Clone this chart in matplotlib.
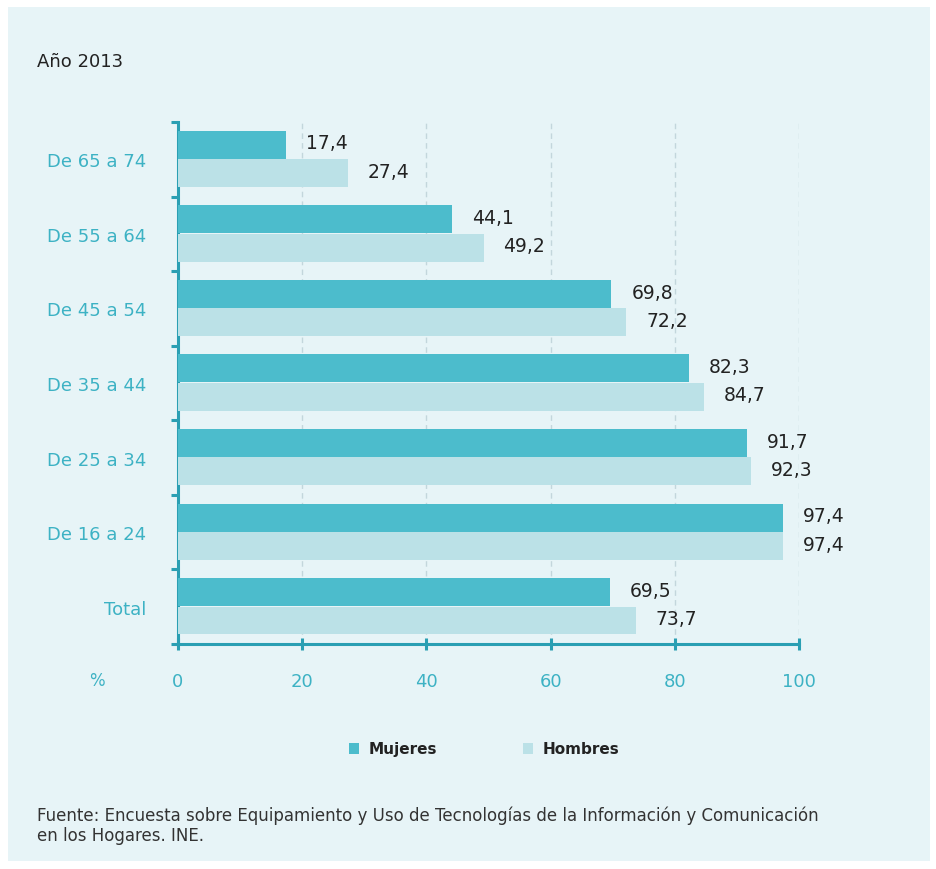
import numpy as np
import matplotlib
matplotlib.use("Agg")
import matplotlib.pyplot as plt
from matplotlib.patches import Rectangle

plt.rcParams["font.family"] = ["DejaVu Sans"]

# Porcentaje de usuarios de Internet por grupo de edad y sexo, 2013
grupos = ["De 65 a 74", "De 55 a 64", "De 45 a 54", "De 35 a 44",
          "De 25 a 34", "De 16 a 24", "Total"]
mujeres = [17.4, 44.1, 69.8, 82.3, 91.7, 97.4, 69.5]
hombres = [27.4, 49.2, 72.2, 84.7, 92.3, 97.4, 73.7]
xticks = [0, 20, 40, 60, 80, 100]

BG = "#e7f4f7"
TEAL = "#2a9fb3"
TEAL_TXT = "#3db2c4"
C_MUJ = "#4cbccc"
C_HOM = "#bbe1e7"
DARK = "#222222"


def fmt(v):
    return f"{v:.1f}".replace(".", ",")


fig = plt.figure(figsize=(9.37, 8.7), dpi=100, facecolor="white")
fig.patches.append(Rectangle((8 / 937, 8 / 870), 922 / 937, 854 / 870,
                             transform=fig.transFigure, facecolor=BG,
                             edgecolor="none", zorder=-10))

ax = fig.add_axes([178 / 937, 1 - 645 / 870, 621 / 937, 522 / 870])
ax.set_facecolor("none")

y = np.arange(len(grupos))
h = 0.375
ax.barh(y - 0.195, mujeres, height=h, color=C_MUJ, lw=0, zorder=3, label="Mujeres")
ax.barh(y + 0.185, hombres, height=h, color=C_HOM, lw=0, zorder=3, label="Hombres")

for yi, m, w in zip(y, mujeres, hombres):
    ax.text(m + 3.2, yi - 0.22, fmt(m), va="center", ha="left",
            fontsize=13.5, color=DARK, zorder=4)
    ax.text(w + 3.2, yi + 0.16, fmt(w), va="center", ha="left",
            fontsize=13.5, color=DARK, zorder=4)

ax.set_xlim(0, 100)
ax.set_ylim(len(grupos) - 0.5, -0.5)

for gx in xticks[1:]:
    ax.axvline(gx, color="#c3d6dc", lw=1, ls=(0, (4, 3)), zorder=1)

for side in ("top", "right"):
    ax.spines[side].set_visible(False)
for side in ("left", "bottom"):
    ax.spines[side].set_color(TEAL)
    ax.spines[side].set_linewidth(2.2)

ax.set_xticks(xticks)
ax.set_xticklabels([str(t) for t in xticks])
ax.tick_params(axis="x", direction="inout", length=8, width=2.2, color=TEAL,
               labelcolor=TEAL_TXT, labelsize=13, pad=16)

ax.set_yticks(y)
ax.set_yticklabels(grupos)
ax.tick_params(axis="y", length=0, labelcolor=TEAL_TXT, labelsize=13, pad=23)
ax.set_yticks(np.arange(-0.5, len(grupos)), minor=True)
ax.tick_params(axis="y", which="minor", direction="out", length=5, width=2.2,
               color=TEAL)

fig.text(97 / 937, 1 - 681 / 870, "%", color=TEAL_TXT, fontsize=12,
         ha="center", va="center")

fig.text(37 / 937, 1 - 62 / 870, "Año 2013", color=DARK, fontsize=13,
         ha="left", va="center")

leg = fig.legend(loc="center", bbox_to_anchor=(484 / 937, 1 - 750 / 870),
                 ncol=2, frameon=False, handlelength=0.7, handleheight=0.7,
                 handletextpad=0.6, columnspacing=5.6,
                 prop={"size": 11, "weight": "bold"})
for t in leg.get_texts():
    t.set_color(DARK)

fig.text(37 / 937, 1 - 826 / 870,
         "Fuente: Encuesta sobre Equipamiento y Uso de Tecnologías de la Información y Comunicación\n"
         "en los Hogares. INE.",
         color="#333333", fontsize=12, ha="left", va="center", linespacing=1.15)

fig.savefig("out.png", dpi=100, facecolor=fig.get_facecolor())
